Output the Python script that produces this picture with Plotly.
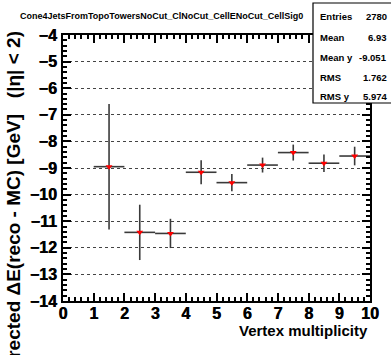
import plotly.graph_objects as go

# ---- data ----
x_centers = [1.5, 2.5, 3.5, 4.5, 5.5, 6.5, 7.5, 8.5, 9.5]
y_values = [-8.95, -11.42, -11.46, -9.16, -9.55, -8.89, -8.42, -8.82, -8.55]
y_errors = [2.36, 1.04, 0.55, 0.45, 0.32, 0.28, 0.30, 0.33, 0.35]
x_halfwidth = [0.5] * 9

title_text = "Cone4JetsFromTopoTowersNoCut_ClNoCut_CellENoCut_CellSig0"
x_title = "Vertex multiplicity"
y_title = "Corrected \u0394E(reco - MC) [GeV]   (|\u03b7| < 2)"
stats_labels = ["Entries", "Mean", "Mean y", "RMS", "RMS y"]
stats_values = ["2780", "6.93", "-9.051", "1.762", "5.974"]

W, H = 391, 355
L, R, T, B = 63, 21, 35, 54
PW, PH = W - L - R, H - T - B

def px(xp):
    return (xp - L) / PW

def py(yp):
    return (H - B - yp) / PH

FONT = "Liberation Sans"
TICKFONT = dict(family=FONT, size=16, color="black", weight="bold",
                shadow="0.5px 0px 0px black")

fig = go.Figure()
fig.add_trace(go.Scatter(
    x=x_centers, y=y_values, mode="markers",
    marker=dict(symbol="triangle-down", size=6, color="red"),
    error_x=dict(type="data", array=x_halfwidth, width=0, thickness=1.6, color="#3a3a3a"),
    error_y=dict(type="data", array=y_errors, width=0, thickness=1.6, color="#3a3a3a"),
    showlegend=False,
))

axis_common = dict(
    showline=True, linecolor="black", linewidth=2, mirror="allticks",
    ticks="inside", ticklen=8, tickwidth=1.5, tickcolor="black",
    tickfont=TICKFONT,
    zeroline=False,
)

fig.update_xaxes(
    range=[0, 10], dtick=1, tick0=0, showgrid=False,
    minor=dict(dtick=0.2, ticks="inside", ticklen=4, tickcolor="black", showgrid=False),
    ticklabelstandoff=-3,
    **axis_common,
)
fig.update_yaxes(
    range=[-14, -4], dtick=1, tick0=0, showgrid=True,
    gridcolor="#444", griddash="dot", gridwidth=1,
    minor=dict(dtick=0.2, ticks="inside", ticklen=4, tickcolor="black", showgrid=False),
    ticklabelstandoff=1,
    **axis_common,
)

annotations = []
annotations.append(dict(
    text=title_text, xref="paper", yref="paper", x=px(18), y=py(16),
    xanchor="left", yanchor="middle", showarrow=False,
    font=dict(family=FONT, size=9, color="black", weight="bold"),
))
annotations.append(dict(
    text=x_title, xref="paper", yref="paper", x=1, y=py(330),
    xanchor="right", yanchor="middle", showarrow=False,
    font=dict(family=FONT, size=15, color="black", weight="bold"),
))
annotations.append(dict(
    text=y_title, xref="paper", yref="paper", x=px(13), y=py(30),
    xanchor="center", yanchor="top", textangle=-90, showarrow=False,
    font=dict(family=FONT, size=19, color="black", weight="bold"),
))
row_y = [17, 37, 57, 77, 96]
for lab, val, yy in zip(stats_labels, stats_values, row_y):
    annotations.append(dict(
        text=lab, xref="paper", yref="paper", x=px(318), y=py(yy),
        xanchor="left", yanchor="middle", showarrow=False,
        font=dict(family=FONT, size=9.5, color="black", weight="bold"),
    ))
    annotations.append(dict(
        text=val, xref="paper", yref="paper", x=px(389), y=py(yy),
        xanchor="right", yanchor="middle", showarrow=False,
        font=dict(family=FONT, size=9.5, color="black", weight="bold"),
    ))

shapes = [dict(
    type="rect", xref="paper", yref="paper",
    x0=px(313), x1=px(393), y0=py(103), y1=py(3),
    line=dict(color="black", width=1.2), fillcolor="white", layer="above",
)]

fig.update_layout(
    width=W, height=H,
    margin=dict(l=L, r=R, t=T, b=B),
    paper_bgcolor="white", plot_bgcolor="white",
    font=dict(family=FONT, weight="bold"),
    annotations=annotations, shapes=shapes,
)

fig.write_html("out.html")
